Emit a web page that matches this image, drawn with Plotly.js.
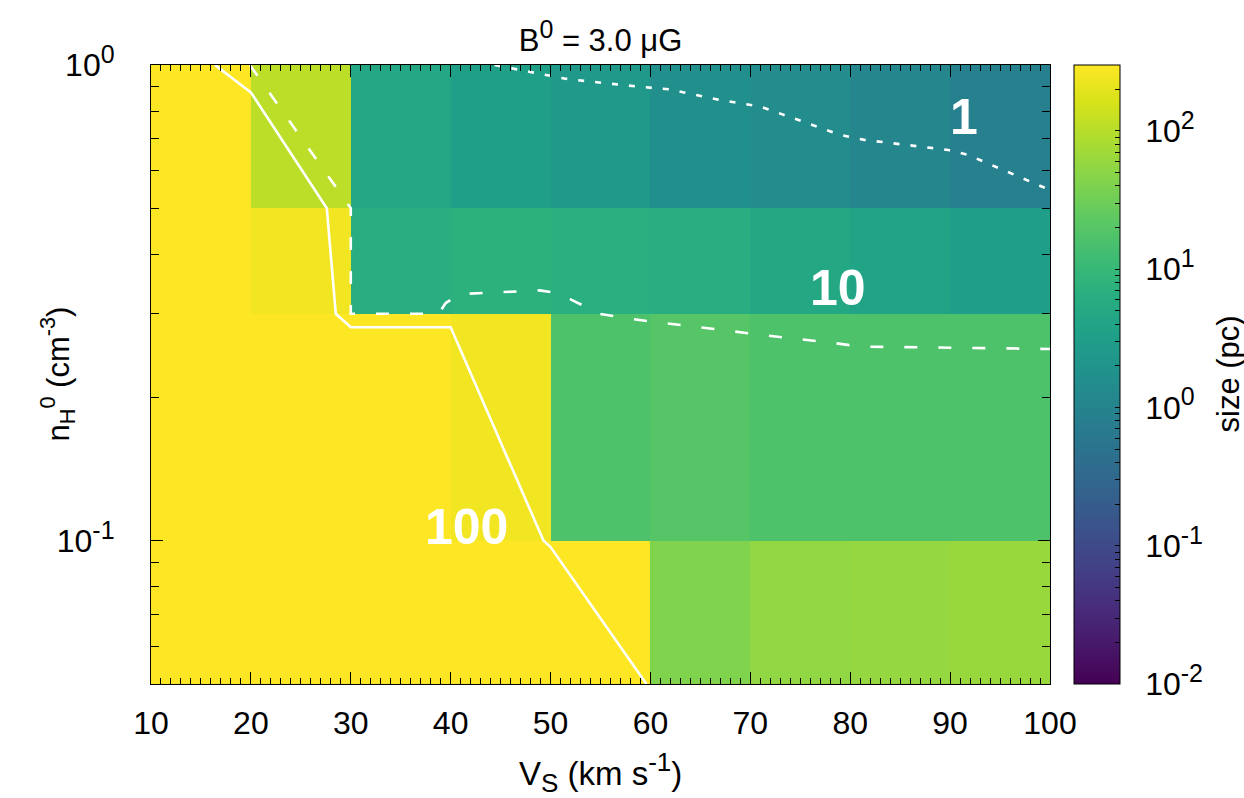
<!DOCTYPE html>
<html><head><meta charset="utf-8">
<script src="https://cdn.plot.ly/plotly-3.0.1.min.js"></script>
<style>html,body{margin:0;padding:0;background:#fff}</style>
</head><body>
<div id="chart" style="width:1244px;height:798px"></div>
<script>
// shock velocity cell edges (km/s) and pre-shock density cell edges (cm^-3)
const vsEdges = [10,20,30,40,50,60,70,80,90,100];
const nhEdges = [0.05,0.1,0.3,0.5,1.0];
// size (pc) per cell, one row per density bin (bottom to top)
const sizeRow005 = [300,300,300,300,300,42,55,58,62];
const sizeRow01  = [300,300,300,250,16.6,19.5,16.6,16.6,16.6];
const sizeRow03  = [300,250,6.3,7.3,6.6,6.3,4.9,4.0,3.05];
const sizeRow05  = [300,105,4.6,3.2,2.4,1.7,1.4,1.09,0.84];

// contour levels
const c100Vs = [16.4,20.0,27.6,28.5,30.0,40.0,49.3,50.0,59.6];
const c100Nh = [1.0,0.876,0.5,0.3,0.281,0.281,0.1,0.097,0.05];
const c10Vs  = [19.9,30.0,30.0,38.8,39.5,40.9,48.9,50.9,52.1,54.9,57.4,60.6,65.0,71.0,78.6,81.0,100];
const c10Nh  = [1.0,0.5,0.3,0.3,0.316,0.33,0.336,0.331,0.321,0.3,0.294,0.288,0.281,0.271,0.26,0.256,0.253];
const c1Vs   = [44.4,48.1,51.7,58.9,61.8,67.0,71.0,79.0,81.4,89.8,91.8,100];
const c1Nh   = [1.0,0.965,0.934,0.9,0.889,0.844,0.818,0.713,0.696,0.663,0.647,0.546];

const contourLabels = ['1','10','100'];
const sizeTickVals = [0.01,0.1,1,10,100];
const vsTicks = [10,20,30,40,50,60,70,80,90,100];
const nhTickVals = [0.1,1];
const sizeMax = 300;

const FONT = 'Liberation Sans, Arial, Helvetica, sans-serif';
const FS = 32;
const sup = (e) => '10<sup><span style="font-size:25px">' + e + '</span></sup>';
const sizeTickText = sizeTickVals.map(v => '\u00a0\u00a0' + sup(Math.round(Math.log10(v))));
const nhTickText = nhTickVals.map(v => sup(Math.round(Math.log10(v))));

const zLog = [sizeRow005,sizeRow01,sizeRow03,sizeRow05].map(r => r.map(v => Math.log10(v)));

// minor tick positions for log scales
const minorLog = [];
[0.01,0.1,1,10,100].forEach(d => { for (let k=2;k<=9;k++){ const v=d*k; if (v<=sizeMax) minorLog.push(Math.log10(v)); } });
const cbVals = sizeTickVals.map(v=>Math.log10(v)).concat(minorLog);
const cbText = sizeTickText.concat(minorLog.map(()=>''));
const nhMinor = [0.06,0.07,0.08,0.09,0.2,0.3,0.4,0.5,0.6,0.7,0.8,0.9];
const zMin = Math.log10(0.01), zMax = Math.log10(sizeMax);

const cbCommon = {
  xref:'paper', thicknessmode:'pixels', len:1, lenmode:'fraction', y:0.5, yanchor:'middle', ypad:0, xpad:0,
  tickmode:'array', tickvals: cbVals, tickcolor:'#000', tickwidth:1
};
const heat = {
  type:'heatmap', x: vsEdges, y: nhEdges, z: zLog,
  colorscale:'Viridis', zmin: zMin, zmax: zMax,
  hoverinfo:'skip',
  colorbar:Object.assign({}, cbCommon, {
    x: 1.0267, xanchor:'left', thickness:46,
    outlinewidth:1, outlinecolor:'#000',
    ticktext: cbText, ticks:'inside', ticklen:5,
    tickfont:{family:FONT, size:FS, color:'#000'}
  })
};
// second, empty scale used only to mirror the colour-bar ticks onto its left edge
const mirrorScale = {
  type:'heatmap', x:[vsEdges[0]], y:[nhEdges[0]], z:[[null]], zmin:zMin, zmax:zMax,
  colorscale:[[0,'#000'],[1,'#000']], hoverinfo:'skip',
  colorbar:Object.assign({}, cbCommon, {
    x: 1.0267, xanchor:'right', thickness:0, outlinewidth:0,
    ticks:'outside', ticklen:5, showticklabels:false
  })
};
const lineStyle = (dash) => ({color:'#fff', width:2.6, dash});
const traces = [
  heat, mirrorScale,
  {type:'scatter', mode:'lines', x:c100Vs, y:c100Nh, line:lineStyle('solid'), hoverinfo:'skip', showlegend:false},
  {type:'scatter', mode:'lines', x:c10Vs, y:c10Nh, line:lineStyle('13px,21px'), hoverinfo:'skip', showlegend:false},
  {type:'scatter', mode:'lines', x:c1Vs, y:c1Nh, line:lineStyle('6px,11px'), hoverinfo:'skip', showlegend:false}
];

const txt = {family:FONT, size:FS, color:'#000'};
const titleTxt = {family:FONT, size:31, color:'#000'};
const axTitleTxt = {family:FONT, size:33, color:'#000'};
const labFont = {family:FONT, size:50, color:'#fff', weight:'bold'};
const layout = {
  width:1244, height:798,
  margin:{l:151, r:194, t:65, b:114, autoexpand:false},
  paper_bgcolor:'#fff', plot_bgcolor:'#fff',
  showlegend:false,
  title:{text:'B<sup><span style="font-size:25px">0</span></sup> = 3.0 \u03bcG', x:0.5, xref:'paper', xanchor:'center', y:1-40/798, yref:'container', yanchor:'middle',
         font:titleTxt},
  xaxis:{
    range:[10,100], tickmode:'array', tickvals:vsTicks, ticks:'inside', ticklen:12, tickcolor:'#000', tickwidth:1,
    showline:true, linecolor:'#000', linewidth:1, mirror:'allticks', showgrid:false, zeroline:false,
    minor:{dtick:1, tick0:10, ticks:'inside', ticklen:6, tickcolor:'#000', showgrid:false},
    tickfont:txt, ticklabelstandoff:11
  },
  yaxis:{
    type:'log', range:[Math.log10(0.05), 0], tickmode:'array', tickvals:nhTickVals, ticktext:nhTickText,
    ticks:'inside', ticklen:12, tickcolor:'#000', tickwidth:1,
    showline:true, linecolor:'#000', linewidth:1, mirror:'allticks', showgrid:false, zeroline:false,
    minor:{tickmode:'array', tickvals:nhMinor, ticks:'inside', ticklen:8, tickcolor:'#000', showgrid:false},
    tickfont:txt, ticklabelstandoff:29
  },
  annotations:[
    {text:'V<sub><span style="font-size:26px">S</span></sub> (km s<sup><span style="font-size:26px">-1</span></sup>)', xref:'paper', yref:'paper', x:0.5, y:-(772-684)/619, xanchor:'center', yanchor:'middle', showarrow:false, font:axTitleTxt},
    {text:'n<sub>H</sub><sup>0</sup> (cm<sup>-3</sup>)', xref:'paper', yref:'paper', x:(58-151)/899, y:0.5, xanchor:'center', yanchor:'middle', textangle:-90, showarrow:false, font:{family:FONT, size:31, color:'#000'}},
    {text:'size (pc)', xref:'paper', yref:'paper', x:(1228-151)/899, y:0.5, xanchor:'center', yanchor:'middle', textangle:-90, showarrow:false, font:titleTxt},
    {text:contourLabels[0], x:91.4, y:-0.109, xref:'x', yref:'y', showarrow:false, font:labFont, xanchor:'center', yanchor:'middle'},
    {text:contourLabels[1], x:78.8, y:-0.4685, xref:'x', yref:'y', showarrow:false, font:labFont, xanchor:'center', yanchor:'middle'},
    {text:contourLabels[2], x:41.6, y:-0.9706, xref:'x', yref:'y', showarrow:false, font:labFont, xanchor:'center', yanchor:'middle'}
  ]
};
Plotly.newPlot('chart', traces, layout, {displayModeBar:false, staticPlot:true});
</script>
</body></html>
